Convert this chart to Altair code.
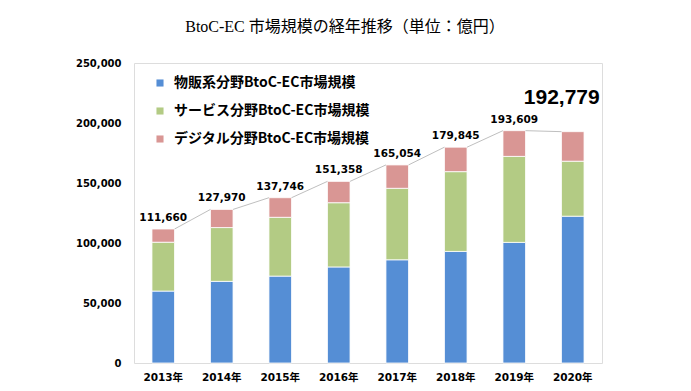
import altair as alt
import pandas as pd

years = ["2013年", "2014年", "2015年", "2016年", "2017年", "2018年", "2019年", "2020年"]
series = ["物販系分野BtoC-EC市場規模", "サービス分野BtoC-EC市場規模", "デジタル分野BtoC-EC市場規模"]
goods = [59931, 68043, 72398, 80043, 86008, 92992, 100515, 122333]
services = [40721, 44816, 49014, 53532, 59568, 66471, 71672, 45832]
digital = [11008, 15111, 16334, 17783, 19478, 20382, 21422, 24614]
totals = [111660, 127970, 137746, 151358, 165054, 179845, 193609, 192779]
colors = ["#558ED5", "#B3CB84", "#D99694"]

rows = []
for i, y in enumerate(years):
    for k, vals in enumerate([goods, services, digital]):
        rows.append({"year": y, "series": series[k], "value": vals[i], "idx": k})
df = pd.DataFrame(rows)

tot_df = pd.DataFrame({"year": years, "total": totals,
                       "label": [f"{t:,}" for t in totals]})
small_df = tot_df.iloc[:-1]
big_df = tot_df.iloc[-1:]

line_df = pd.DataFrame({
    "year": years[:-1], "next_year": years[1:],
    "total": totals[:-1], "next_total": totals[1:],
})

num_font = "DejaVu Sans, Noto Sans CJK JP"

xenc = alt.X("year:N", sort=years,
             scale=alt.Scale(paddingInner=0.614, paddingOuter=0.307),
             axis=alt.Axis(title=None, labelAngle=0, domain=False, ticks=False,
                           labelPadding=9, labelFont=num_font, labelFontSize=10.5,
                           labelFontWeight="bold", labelColor="#000000"))
yenc = alt.Y("value:Q", stack="zero",
             scale=alt.Scale(domain=[0, 250000], nice=False),
             axis=alt.Axis(title=None, values=[0, 50000, 100000, 150000, 200000, 250000],
                           format=",d", domain=False, ticks=False, grid=False,
                           labelPadding=13, labelFont=num_font, labelFontSize=10,
                           labelFontWeight="bold", labelColor="#000000"))

bars = alt.Chart(df).mark_bar(stroke="white", strokeWidth=0.8).encode(
    x=xenc,
    y=yenc,
    color=alt.Color("series:N", sort=series,
                    scale=alt.Scale(domain=series, range=colors),
                    legend=alt.Legend(title=None, orient="none", legendX=19, legendY=13,
                                      symbolType="square", symbolSize=50,
                                      symbolStrokeWidth=0, labelFont="Noto Sans CJK JP",
                                      labelFontSize=14, labelFontWeight="bold",
                                      labelColor="#000000", rowPadding=14,
                                      labelOffset=7, labelLimit=400)),
    order=alt.Order("idx:Q", sort="ascending"),
)

lines = alt.Chart(line_df).mark_rule(color="#BFBFBF", strokeWidth=1,
                                      xOffset=11.3, x2Offset=-11.3).encode(
    x=alt.X("year:N", sort=years),
    x2="next_year:N",
    y=alt.Y("total:Q"),
    y2="next_total:Q",
)

labels = alt.Chart(small_df).mark_text(baseline="bottom", dy=-6, font=num_font,
                                        fontSize=10.5, fontWeight="bold",
                                        color="#000000").encode(
    x=alt.X("year:N", sort=years),
    y=alt.Y("total:Q"),
    text="label:N",
)

big = alt.Chart(big_df).mark_text(baseline="middle", dx=-11, dy=-34,
                                  font="Liberation Sans", fontSize=21,
                                  fontWeight="bold", color="#000000").encode(
    x=alt.X("year:N", sort=years),
    y=alt.Y("total:Q"),
    text="label:N",
)

chart = alt.layer(bars, lines, labels, big).properties(
    width=468, height=300,
    title=alt.TitleParams("BtoC-EC 市場規模の経年推移（単位：億円）",
                          font="Liberation Serif, Noto Sans CJK JP", fontSize=16,
                          fontWeight="normal", color="#000000", anchor="middle",
                          frame="group", offset=23, dx=-23),
    autosize=alt.AutoSizeParams(type="none"),
    padding={"left": 126, "top": 55, "right": 70, "bottom": 20},
).configure_view(stroke="#D9D9D9", strokeWidth=1.2).configure(background="white")

chart.save("out.html", embed_options={"renderer": "svg", "actions": False})
